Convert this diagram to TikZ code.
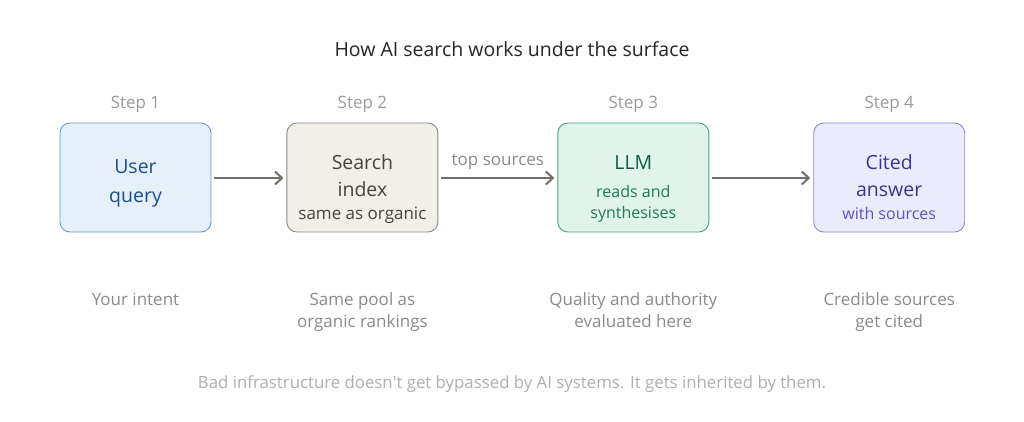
\documentclass[tikz,border=0pt]{standalone}
\usepackage{fontspec}
\setmainfont{Open Sans}
\usepackage{xcolor}
\usepackage{tikz}
\usetikzlibrary{arrows.meta,positioning}

\definecolor{querybg}{HTML}{E6F0FA}
\definecolor{queryln}{HTML}{6A98CF}
\definecolor{querytx}{HTML}{1E4F8C}
\definecolor{indexbg}{HTML}{F1EFE9}
\definecolor{indexln}{HTML}{8E8B84}
\definecolor{indextx}{HTML}{46443F}
\definecolor{llmbg}{HTML}{E1F4EC}
\definecolor{llmln}{HTML}{4A9E80}
\definecolor{llmtx}{HTML}{0F5C44}
\definecolor{llmsub}{HTML}{1E7A58}
\definecolor{citebg}{HTML}{ECEBFC}
\definecolor{citeln}{HTML}{8C86DC}
\definecolor{citetx}{HTML}{3A3490}
\definecolor{citesub}{HTML}{5B53C9}
\definecolor{arrowgray}{HTML}{71706B}
\definecolor{stepgray}{HTML}{9A9A9A}
\definecolor{notegray}{HTML}{8A8A8A}
\definecolor{footgray}{HTML}{AEAEAE}

\begin{document}
\begin{tikzpicture}[x=1pt, y=1pt, >=Stealth,
    stepbox/.style={draw, rounded corners=10pt, line width=0.9pt, minimum width=151pt, minimum height=109pt, inner sep=0pt},
    bigline/.style={anchor=base, inner sep=0pt, font=\fontsize{19.5}{24}\selectfont},
    subline/.style={anchor=base, inner sep=0pt, font=\fontsize{16}{20}\selectfont},
    steplabel/.style={anchor=base, inner sep=0pt, font=\fontsize{17}{20}\selectfont, text=stepgray},
    notetx/.style={anchor=north, inner sep=0pt, align=center, font=\fontsize{17}{22}\selectfont, text=notegray},
    flow/.style={draw=arrowgray, line width=2pt, arrows={-{Straight Barb[length=7pt, width=13pt, line width=2pt]}}}]
        \useasboundingbox (0,0) rectangle (1024,-422);
        \node[anchor=base, font=\fontsize{19.5}{24}\selectfont, text=black!85] (title) at (512,-56.7) {How AI search works under the surface};
        % the four steps
        \node[stepbox, fill=querybg, draw=queryln] (query) at (135.5,-177.5) {};
        \node[stepbox, fill=indexbg, draw=indexln, right=75pt of query] (index) {};
        \node[stepbox, fill=llmbg, draw=llmln, right=119pt of index] (llm) {};
        \node[stepbox, fill=citebg, draw=citeln, right=104pt of llm] (cite) {};
        \node[bigline, text=querytx] (query1) at ([yshift=3.5pt]query.center) {User};
        \node[bigline, text=querytx] (query2) at ([yshift=-25.2pt]query.center) {query};
        \node[bigline, text=indextx] (index1) at ([yshift=8.2pt]index.center) {Search};
        \node[bigline, text=indextx] (index2) at ([yshift=-19.2pt]index.center) {index};
        \node[subline, text=indextx, font=\fontsize{17}{20}\selectfont] (index3) at ([yshift=-41.5pt]index.center) {same as organic};
        \node[bigline, text=llmtx] (llm1) at ([yshift=8.2pt]llm.center) {LLM};
        \node[subline, text=llmsub] (llm2) at ([yshift=-19.8pt]llm.center) {reads and};
        \node[subline, text=llmsub] (llm3) at ([yshift=-40.8pt]llm.center) {synthesises};
        \node[bigline, text=citetx] (cite1) at ([yshift=8.2pt]cite.center) {Cited};
        \node[bigline, text=citetx] (cite2) at ([yshift=-19.2pt]cite.center) {answer};
        \node[subline, text=citesub] (cite3) at ([yshift=-42pt]cite.center) {with sources};
        \node[steplabel] (s1) at ([yshift=14pt]query.north) {Step 1};
        \node[steplabel] (s2) at ([yshift=14pt]index.north) {Step 2};
        \node[steplabel] (s3) at ([yshift=14pt]llm.north) {Step 3};
        \node[steplabel] (s4) at ([yshift=14pt]cite.north) {Step 4};
        \draw[flow] ([xshift=3pt,yshift=-0.5pt]query.east) -- ([xshift=-3pt,yshift=-0.5pt]index.west);
        \draw[flow] ([xshift=3pt,yshift=-0.5pt]index.east) -- node[above=12pt, anchor=base, inner sep=0pt, font=\fontsize{17}{20}\selectfont, text=notegray] (top) {top sources} ([xshift=-3pt,yshift=-0.5pt]llm.west);
        \draw[flow] ([xshift=3pt,yshift=-0.5pt]llm.east) -- ([xshift=-3pt,yshift=-0.5pt]cite.west);
        % what each step means
        \node[notetx, below=60pt of query.south] (n1) {Your intent};
        \node[notetx, below=60pt of index.south] (n2) {Same pool as\\organic rankings};
        \node[notetx, below=60pt of llm.south] (n3) {Quality and authority\\evaluated here};
        \node[notetx, below=60pt of cite.south] (n4) {Credible sources\\get cited};
        \node[anchor=base, font=\fontsize{16.8}{20}\selectfont, text=footgray] (foot) at (512,-388.3) {Bad infrastructure doesn\textquotesingle t get bypassed by AI systems. It gets inherited by them.};
      \end{tikzpicture}
\end{document}
